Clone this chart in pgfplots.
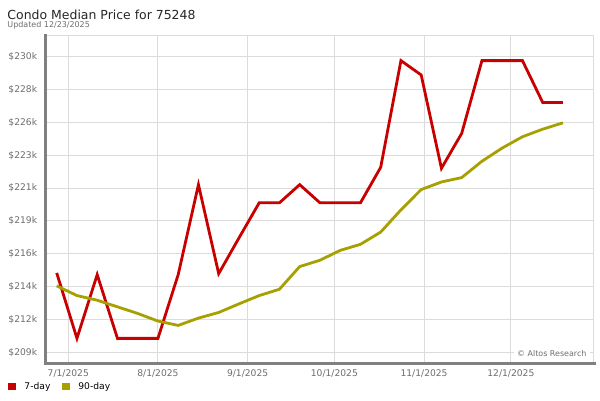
\documentclass[border=0pt]{standalone}
\usepackage{fontspec}
\setmainfont{DejaVu Sans}
\usepackage{pgfplots}
\pgfplotsset{compat=1.18}
\definecolor{redl}{RGB}{200,0,0}
\definecolor{olivel}{RGB}{166,160,0}
\definecolor{gridc}{RGB}{220,220,220}
\definecolor{axisc}{RGB}{128,128,128}
\definecolor{tickc}{RGB}{110,110,110}
\begin{document}
\begin{tikzpicture}[x=1bp,y=1bp]
\useasboundingbox (0,0) rectangle (600,400);
\fill[white] (0,0) rectangle (600,400);
\node[anchor=base west, inner sep=0, font=\fontsize{12.5}{14}\selectfont, text=black!85] at (7.3,380.3) {Condo Median Price for 75248};
\node[anchor=base west, inner sep=0, font=\fontsize{8}{9}\selectfont, text=tickc] at (7.3,372.3) {Updated 12/23/2025};
\begin{axis}[
  at={(46bp,37bp)}, anchor=south west,
  scale only axis, width=547.3bp, height=327.3bp,
  clip=false,
  xmin=-7.7, xmax=181.5, ymin=208.64, ymax=231.89,
  xtick={0,31,62,92,123,153},
  xticklabels={7/1/2025,8/1/2025,9/1/2025,10/1/2025,11/1/2025,12/1/2025},
  ytick={209.4,211.7333,214.0667,216.4,218.7333,221.0667,223.4,225.7333,228.0667,230.4},
  yticklabels={\$209k,\$212k,\$214k,\$216k,\$219k,\$221k,\$223k,\$226k,\$228k,\$230k},
  grid=major, major grid style={draw=gridc, line width=1bp},
  major tick length=0pt,
  axis line style={draw=gridc, line width=1bp},
  tick label style={font=\fontsize{9.2}{11}\selectfont, text=tickc, inner sep=0pt},
  xticklabel style={anchor=north, yshift=-6bp},
  yticklabel style={anchor=east, xshift=-8.7bp},
  legend style={at={(-0.0689,-0.0718)}, anchor=west, draw=none, fill=none,
    inner sep=0pt, outer sep=0pt, font=\fontsize{9.2}{11}\selectfont,
    nodes={inner sep=0pt},
    /tikz/every odd column/.append style={column sep=8.4bp},
    /tikz/every even column/.append style={column sep=11.7bp}},
  legend columns=2,
  legend image code/.code={\fill[#1] (0bp,-2.5bp) rectangle (5bp,2.5bp);},
]
\addplot[redl, line width=2.8bp, mark=none] coordinates {
(-4,215.04) (3,210.39) (10,214.92) (17,210.39) (24,210.39) (31,210.39)
(38,214.92) (45,221.31) (52,214.99) (59,217.52) (66,220.02) (73,220.02)
(80,221.31) (87,220.02) (94,220.02) (101,220.02) (108,222.54) (115,230.12)
(122,229.10) (129,222.47) (136,224.95) (143,230.12) (150,230.12) (157,230.12)
(164,227.15) (171,227.15)};
\addlegendentry{7-day}
\addplot[olivel, line width=2.8bp, mark=none] coordinates {
(-4,214.12) (3,213.43) (10,213.10) (17,212.63) (24,212.16) (31,211.62)
(38,211.31) (45,211.83) (52,212.23) (59,212.84) (66,213.43) (73,213.88)
(80,215.49) (87,215.94) (94,216.64) (101,217.07) (108,217.94) (115,219.52)
(122,220.96) (129,221.50) (136,221.81) (143,222.97) (150,223.91) (157,224.71)
(164,225.25) (171,225.70)};
\addlegendentry{90-day}
\node[anchor=east, fill=white, inner xsep=3bp, inner ysep=1bp, font=\fontsize{8}{9}\selectfont, text=tickc] at ([xshift=-3.6bp, yshift=9bp]rel axis cs:1,0) {© Altos Research};
\draw[axisc, line width=3bp, line cap=rect] ([xshift=-0.7bp]rel axis cs:0,1) -- ([xshift=-0.7bp, yshift=-0.5bp]rel axis cs:0,0) -- ([xshift=1.5bp, yshift=-0.5bp]rel axis cs:1,0);
\end{axis}
\end{tikzpicture}
\end{document}
